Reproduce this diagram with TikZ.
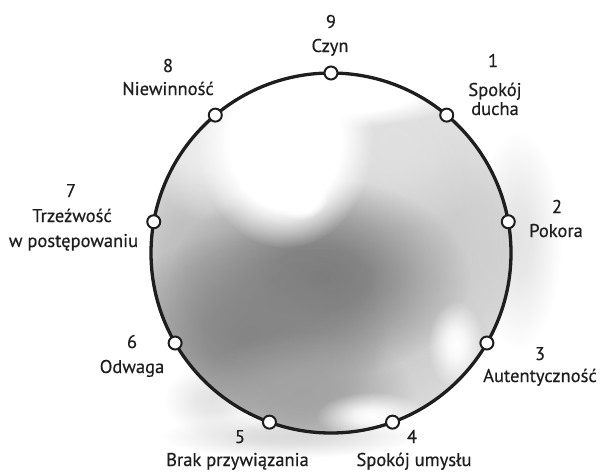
\documentclass[tikz,border=0pt]{standalone}
\usepackage{fontspec}
\setmainfont{PT Sans}
\newfontfamily\lblfont{PT Sans}[FakeBold=0.5]
\usetikzlibrary{fadings}
\pgfdeclareradialshading{softshade}{\pgfpointorigin}{color(0bp)=(white); color(8bp)=(white!85!black); color(17bp)=(white!40!black); color(25bp)=(black); color(50bp)=(black)}
\pgfdeclarefading{soft}{\pgfuseshading{softshade}}
\pgfdeclareradialshading{hardshade}{\pgfpointorigin}{color(0bp)=(white); color(16bp)=(white); color(25bp)=(black); color(50bp)=(black)}
\pgfdeclarefading{hard}{\pgfuseshading{hardshade}}
\newcommand\sblob[5]{\fill[#5, path fading=soft] (#1,#2) ellipse ({2*#3} and {2*#4});}
\newcommand\hblob[5]{\fill[#5, path fading=hard] (#1,#2) ellipse ({2*#3} and {2*#4});}
\definecolor{ink}{HTML}{1E1E1E}
\tikzset{
  ring/.style={draw=ink, line width=3.3pt},
  dot/.style={circle, draw=ink, fill=white, line width=2pt, minimum size=13pt, inner sep=0pt},
  lbl/.style={anchor=base, inner sep=0pt, text=ink, font=\lblfont\fontsize{18.5}{22}\selectfont},
}
\begin{document}
\begin{tikzpicture}[x=1pt, y=-1pt]
\useasboundingbox (0,0) rectangle (609,471);
\coordinate (c) at (331,253);
% faint halo outside the ring
\sblob{518}{240}{22}{55}{black!11}
\sblob{290}{436}{65}{11}{black!15}
\sblob{212}{400}{24}{18}{black!11}
% wash inside the ring
\begin{scope}
\clip (c) circle (180);
\sblob{305}{300}{135}{125}{black!27}
\sblob{445}{240}{60}{100}{black!20}
\sblob{395}{140}{55}{45}{black!12}
\sblob{185}{270}{35}{75}{black!26}
\sblob{320}{278}{75}{50}{black!52}
\sblob{248}{335}{70}{52}{black!48}
\sblob{305}{395}{55}{32}{black!36}
\sblob{205}{150}{30}{35}{black!7}
\hblob{285}{140}{44}{54}{white}
\hblob{330}{88}{70}{20}{white}
\hblob{300}{196}{14}{12}{white}
\sblob{456}{345}{14}{22}{white}
\sblob{372}{416}{28}{12}{white}
\end{scope}
\draw[ring] (c) circle (180);
\begin{scope}[shift={(c)}]
\node[dot] (n9) at (-90:180) {};
\node[dot] (n1) at (-50:180) {};
\node[dot] (n2) at (-10:180) {};
\node[dot] (n3) at (30:180) {};
\node[dot] (n4) at (70:180) {};
\node[dot] (n5) at (110:180) {};
\node[dot] (n6) at (150:180) {};
\node[dot] (n7) at (190:180) {};
\node[dot] (n8) at (230:180) {};
\end{scope}
% labels
\node[lbl] (d9) at (331,28) {9};
\node[lbl] (t9) at (330,52) {Czyn};
\node[lbl] (d8) at (168,72) {8};
\node[lbl] (t8) at (168,95) {Niewinność};
\node[lbl] (d1) at (493,67) {1};
\node[lbl] (t1a) at (495,96) {Spokój};
\node[lbl] (t1b) at (495,115) {ducha};
\node[lbl] (d2) at (557,213) {2};
\node[lbl] (t2) at (556,237) {Pokora};
\node[lbl] (d3) at (540,360) {3};
\node[lbl, anchor=base west] (t3) at (483,382) {Autentyczność};
\node[lbl] (d4) at (412,443) {4};
\node[lbl] (t4) at (414,466) {Spokój umysłu};
\node[lbl] (d5) at (240,443) {5};
\node[lbl] (t5) at (237.5,466) {Brak przywiązania};
\node[lbl] (d6) at (132,348) {6};
\node[lbl] (t6) at (132,373) {Odwaga};
\node[lbl] (d7) at (71,197) {7};
\node[lbl] (t7a) at (72,222) {Trzeźwość};
\node[lbl] (t7b) at (73.5,247) {w postępowaniu};
\end{tikzpicture}
\end{document}
